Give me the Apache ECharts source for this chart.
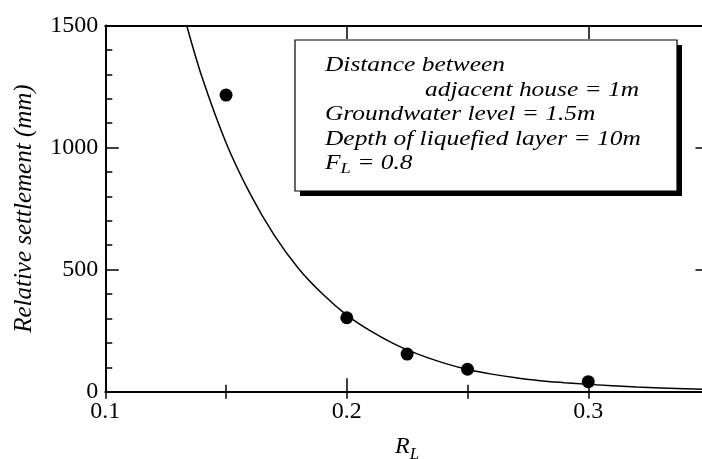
<!DOCTYPE html>
<html>
<head>
<meta charset="utf-8">
<script src="https://cdn.jsdelivr.net/npm/echarts@6/dist/echarts.min.js"></script>
<style>
  html, body { margin: 0; padding: 0; background: #ffffff; }
  #chart { width: 702px; height: 459px; }
</style>
</head>
<body>
<div id="chart"></div>
<script>
// Measured settlement against R_L
const rlPoints = [0.15, 0.2, 0.225, 0.25, 0.3];
const settlementPoints = [1215, 303, 154, 92, 41];

// Fitted trend line, sampled along R_L
const fitRL = [0.1337, 0.14, 0.15, 0.16, 0.17, 0.18, 0.19, 0.20, 0.21, 0.22, 0.23,
               0.24, 0.25, 0.26, 0.27, 0.28, 0.29, 0.30, 0.32, 0.34, 0.35];
const fitSettlement = [1500, 1290, 1020, 810, 640, 505, 400, 314, 248, 194, 152,
                       118, 91, 72, 57, 45, 37, 30, 19, 12, 9];

// Axis ranges and tick steps
const xRange = [0.1, 0.35];
const xMajorStep = 0.1;
const xMinorStep = 0.05;
const yRange = [0, 1500];
const yMajorStep = 500;
const yMinorSplit = 5;

// Condition notes shown in the framed box
const noteLines = [
  'Distance between',
  'adjacent house = 1m',
  'Groundwater level = 1.5m',
  'Depth of liquefied layer = 10m',
  '{i|F}{s|L}{i| = 0.8}'
];

const SERIF = 'Liberation Serif';
const INK = '#000000';

const majorTick = { show: true, inside: true, length: 13.5, lineStyle: { color: INK, width: 1.5 } };
const minorTickStyle = { show: true, inside: true, length: 7, lineStyle: { color: INK, width: 1.5 } };
const frameLine = { show: true, onZero: false, lineStyle: { color: INK, width: 2 } };

function xAxisPair(position, withLabels) {
  return [
    {
      type: 'value', position: position, min: xRange[0], max: xRange[1], interval: xMajorStep,
      axisLine: frameLine, axisTick: majorTick, splitLine: { show: false },
      axisLabel: withLabels ? {
        show: true, margin: 8, color: INK, fontFamily: SERIF, fontSize: 24,
        showMaxLabel: false, formatter: v => v.toFixed(1)
      } : { show: false },
      name: withLabels ? '{r|R}{s|L}' : '',
      nameLocation: 'middle', nameGap: 38,
      nameTextStyle: {
        rich: {
          r: { fontFamily: SERIF, fontStyle: 'italic', fontSize: 24, color: INK },
          s: { fontFamily: SERIF, fontStyle: 'italic', fontSize: 17, color: INK, padding: [16, 0, 0, 0] }
        }
      }
    },
    {
      type: 'value', position: position, min: xRange[0], max: xRange[1], interval: xMinorStep,
      axisLine: { show: false }, axisTick: minorTickStyle, splitLine: { show: false },
      axisLabel: { show: false }
    }
  ];
}

function yAxisSide(position, withLabels) {
  return {
    type: 'value', position: position, min: yRange[0], max: yRange[1], interval: yMajorStep,
    axisLine: frameLine, axisTick: majorTick,
    minorTick: Object.assign({ splitNumber: yMinorSplit }, minorTickStyle),
    splitLine: { show: false },
    axisLabel: withLabels ? {
      show: true, margin: 7, color: INK, fontFamily: SERIF, fontSize: 24,
      formatter: v => String(v)
    } : { show: false },
    name: withLabels ? 'Relative settlement (mm)' : '',
    nameLocation: 'middle', nameGap: 68, nameRotate: 90,
    nameTextStyle: { fontFamily: SERIF, fontStyle: 'italic', fontSize: 25, color: INK }
  };
}

const boxX = 295, boxY = 40, boxW = 382, boxH = 151, shadowOff = 5;
const noteX = [325, 425, 325, 325, 325];
const noteY = [66, 90.5, 115, 139.5, 164];

const noteGraphics = noteLines.map((t, i) => ({
  type: 'text', x: noteX[i], y: noteY[i], scaleX: 1.24, z: 102,
  style: {
    text: t, align: 'left', verticalAlign: 'middle', fill: INK,
    font: 'italic 20.5px ' + SERIF,
    rich: {
      i: { fontFamily: SERIF, fontStyle: 'italic', fontSize: 20.5, fill: INK, color: INK },
      s: { fontFamily: SERIF, fontStyle: 'italic', fontSize: 15, fill: INK, color: INK, padding: [10, 0, 0, 0] }
    }
  }
}));

const chart = echarts.init(document.getElementById('chart'), null, { renderer: 'canvas' });
chart.setOption({
  animation: false,
  backgroundColor: '#ffffff',
  textStyle: { fontFamily: SERIF },
  grid: { left: 105.3, top: 25.5, width: 603.7, height: 366.2, containLabel: false, outerBoundsMode: 'none' },
  xAxis: [...xAxisPair('bottom', true), ...xAxisPair('top', false)],
  yAxis: [yAxisSide('left', true), yAxisSide('right', false)],
  series: [
    {
      name: 'fit', type: 'line', xAxisIndex: 0, yAxisIndex: 0,
      data: fitRL.map((x, i) => [x, fitSettlement[i]]),
      smooth: 0.3, showSymbol: false, symbol: 'none', clip: true,
      lineStyle: { color: INK, width: 1.5 }, z: 3
    },
    {
      name: 'measured', type: 'scatter', xAxisIndex: 0, yAxisIndex: 0,
      data: rlPoints.map((x, i) => [x, settlementPoints[i]]),
      symbol: 'circle', symbolSize: 13, itemStyle: { color: INK, opacity: 1 }, z: 4
    }
  ],
  graphic: [
    { type: 'rect', shape: { x: boxX + shadowOff, y: boxY + shadowOff, width: boxW, height: boxH },
      style: { fill: INK }, z: 100 },
    { type: 'rect', shape: { x: boxX, y: boxY, width: boxW, height: boxH },
      style: { fill: '#ffffff', stroke: INK, lineWidth: 1.2 }, z: 101 },
    ...noteGraphics
  ]
});
</script>
</body>
</html>
